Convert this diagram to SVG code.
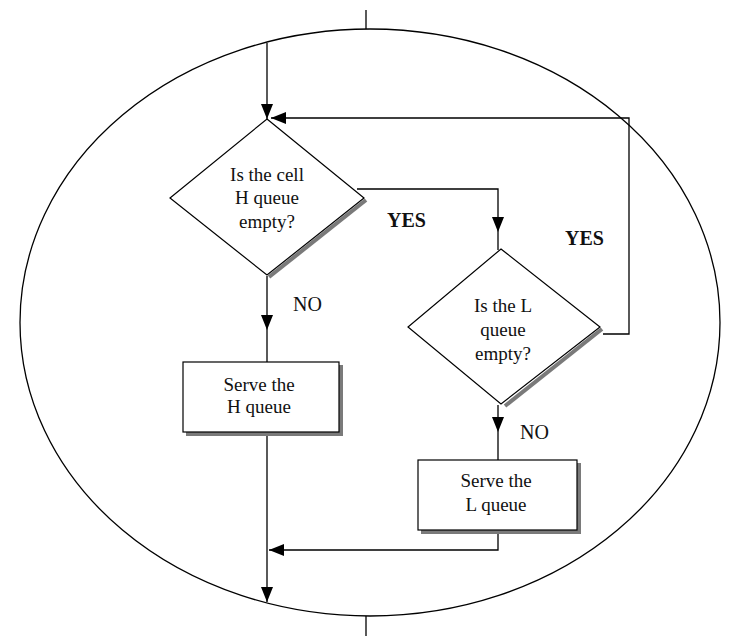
<svg xmlns="http://www.w3.org/2000/svg" width="740" height="636" viewBox="0 0 740 636">
<defs>
<marker id="arr" viewBox="0 0 10 10" refX="10" refY="5" markerWidth="15" markerHeight="12" markerUnits="userSpaceOnUse" orient="auto" preserveAspectRatio="none">
<path d="M0,0 L10,5 L0,10 z" fill="#000"/>
</marker>
<style>
.ln{fill:none;stroke:#000;stroke-width:1.3}
.shape{fill:#fff;stroke:#000;stroke-width:1.2}
.shadow{fill:none;stroke:#7a7a7a;stroke-width:4}
.t{font-family:"Liberation Serif","Times New Roman",serif;font-size:19px;fill:#111;text-anchor:middle}
.lab{font-family:"Liberation Serif","Times New Roman",serif;font-size:20px;fill:#111}
.b{font-weight:bold}
</style>
</defs>
<rect width="740" height="636" fill="#fff"/>
<g id="boundary">
<ellipse cx="370" cy="322.5" rx="350" ry="293.5" class="ln"/>
<line x1="366" y1="10" x2="366" y2="29" class="ln"/>
<line x1="366" y1="616" x2="366" y2="636" class="ln"/>
</g>
<g id="connectors">
<path d="M267,43 V119" class="ln" marker-end="url(#arr)"/>
<path d="M603,334 H629 V118 H271" class="ln" marker-end="url(#arr)"/>
<path d="M357,189 H498 V232" class="ln" marker-end="url(#arr)"/>
<path d="M498,232 V250" class="ln"/>
<path d="M267,276 V330" class="ln" marker-end="url(#arr)"/>
<path d="M267,330 V362" class="ln"/>
<path d="M498,405 V432" class="ln" marker-end="url(#arr)"/>
<path d="M498,432 V460" class="ln"/>
<path d="M498,530 V550 H269" class="ln" marker-end="url(#arr)"/>
<path d="M267,432 V602" class="ln" marker-end="url(#arr)"/>
</g>
<g id="decision-h">
<path d="M366,200 L269,277" class="shadow"/>
<path d="M267,119 L364,198 L267,275 L170,198 Z" class="shape"/>
<text class="t" x="267" y="181">Is the cell</text>
<text class="t" x="267" y="204">H queue</text>
<text class="t" x="267" y="228">empty?</text>
</g>
<g id="decision-l">
<path d="M602,329 L505,406" class="shadow"/>
<path d="M501,249 L600,327 L501,404 L408,327 Z" class="shape"/>
<text class="t" x="503" y="312">Is the L</text>
<text class="t" x="503" y="336">queue</text>
<text class="t" x="503" y="360">empty?</text>
</g>
<g id="serve-h">
<path d="M341,365 V434 H186" class="shadow"/>
<rect x="183" y="362" width="156" height="70" class="shape"/>
<text class="t" x="259" y="391">Serve the</text>
<text class="t" x="259" y="413">H queue</text>
</g>
<g id="serve-l">
<path d="M579,463 V532 H421" class="shadow"/>
<rect x="418" y="460" width="159" height="70" class="shape"/>
<text class="t" x="496" y="487">Serve the</text>
<text class="t" x="496" y="511">L queue</text>
</g>
<g id="labels">
<text class="lab b" x="387" y="227">YES</text>
<text class="lab b" x="565" y="245">YES</text>
<text class="lab" x="293" y="311">NO</text>
<text class="lab" x="520" y="439">NO</text>
</g>
</svg>
